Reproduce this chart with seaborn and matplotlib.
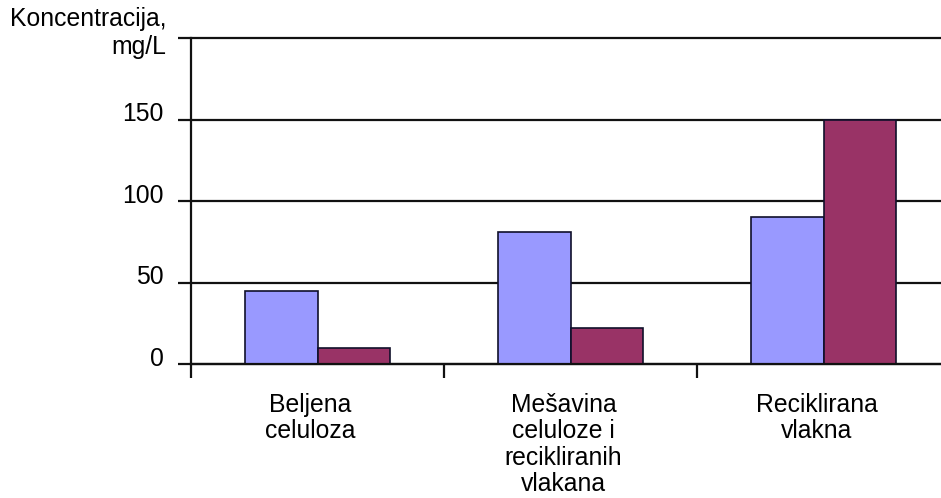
import pandas as pd
import matplotlib
matplotlib.use("Agg")
import matplotlib.pyplot as plt
import matplotlib.transforms as mtransforms
import seaborn as sns

# Data
categories = ["Beljena\nceluloza",
              "Mešavina\nceluloze i\nrecikliranih\nvlakana",
              "Reciklirana\nvlakna"]
series_names = ["Serija 1", "Serija 2"]
series_1 = [45, 81, 90]
series_2 = [10, 22, 150]
y_ticks = [0, 50, 100, 150, 200]
y_tick_labels = ["0", "50", "100", "150", ""]
colors = ["#9999FF", "#993366"]


def build_frame():
    rows = []
    for name, values in zip(series_names, [series_1, series_2]):
        for cat, val in zip(categories, values):
            rows.append({"kategorija": cat, "serija": name, "vrijednost": val})
    return pd.DataFrame(rows)


def plot_chart(data):
    sns.set_style("white")
    plt.rcParams["font.family"] = ["Liberation Sans", "DejaVu Sans"]
    plt.rcParams["text.color"] = "black"
    plt.rcParams["xtick.color"] = "black"
    plt.rcParams["ytick.color"] = "black"

    fig = plt.figure(figsize=(9.41, 4.98), dpi=100)
    ax = fig.add_axes([0.203, 0.269, 0.8066, 0.6546])

    sns.barplot(data=data, x="kategorija", y="vrijednost", hue="serija",
                order=categories, hue_order=series_names, palette=colors,
                width=0.57, gap=0, edgecolor="#10102a", linewidth=1.2,
                saturation=1, legend=False, ax=ax)

    ax.set_ylim(0, 200)
    ax.set_xlim(-0.5, 2.5)
    ax.set_yticks(y_ticks)
    ax.set_yticklabels(y_tick_labels, fontsize=17.8)
    ax.yaxis.grid(True, color="#111111", linewidth=1.6)
    ax.set_axisbelow(True)
    for line in ax.get_ygridlines():
        line.set_clip_on(False)

    # category boundaries carry the tick marks, labels sit between them
    ax.set_xticks([-0.5, 0.5, 1.5, 2.5])
    ax.set_xticklabels([])
    ax.set_xticks([0, 1, 2], minor=True)
    ax.set_xticklabels(categories, minor=True, fontsize=17.8, linespacing=1.12)
    ax.tick_params(axis="x", which="major", direction="out", length=10,
                   width=1.6, color="#111111", bottom=True)
    ax.tick_params(axis="x", which="minor", length=0, pad=21)
    ax.tick_params(axis="y", direction="out", length=9.5, width=1.6,
                   color="#111111", pad=10, left=True)

    shift_x = mtransforms.ScaledTranslation(-0.07, 0, fig.dpi_scale_trans)
    for lbl in ax.get_xticklabels(minor=True):
        lbl.set_transform(lbl.get_transform() + shift_x)
    shift_y = mtransforms.ScaledTranslation(0, 0.08, fig.dpi_scale_trans)
    for lbl in ax.get_yticklabels():
        lbl.set_transform(lbl.get_transform() + shift_y)

    for side in ["top", "right"]:
        ax.spines[side].set_visible(False)
    ax.spines["left"].set_color("#111111")
    ax.spines["left"].set_linewidth(1.6)
    ax.spines["bottom"].set_color("#111111")
    ax.spines["bottom"].set_linewidth(1.6)

    ax.set_xlabel("")
    ax.set_ylabel("")
    fig.text(166 / 941, 1 - 7 / 498, "Koncentracija,\nmg/L", fontsize=17.8,
             ha="right", va="top", multialignment="right")

    fig.savefig("out.png", dpi=100)


def main():
    data = build_frame()
    plot_chart(data)


if __name__ == "__main__":
    main()
